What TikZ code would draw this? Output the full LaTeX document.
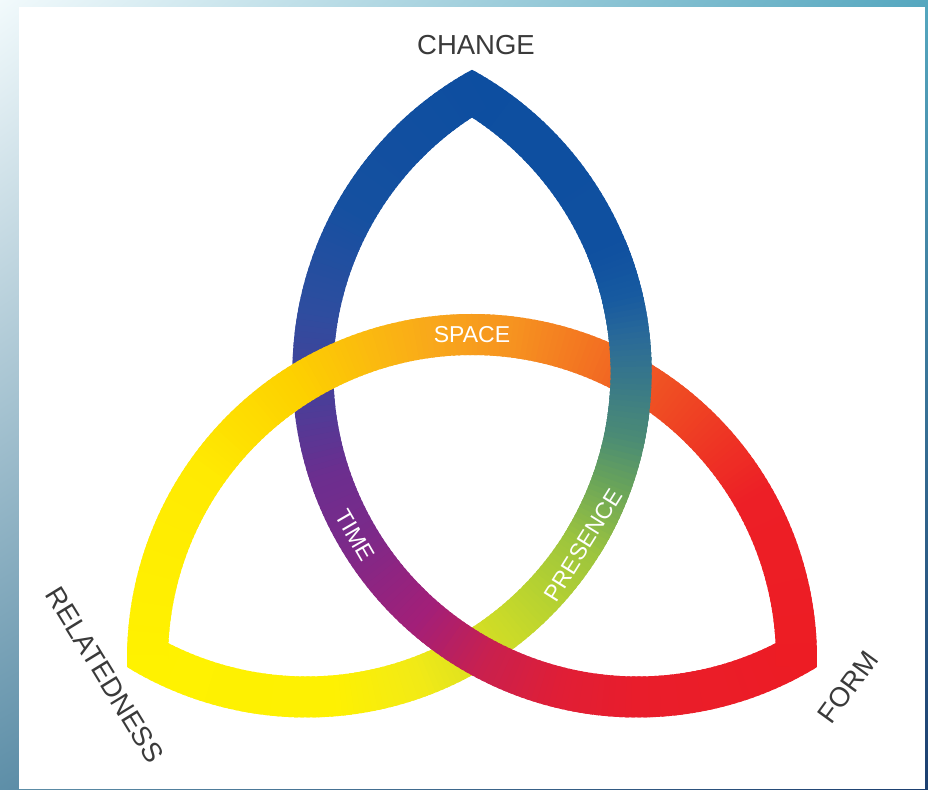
\documentclass[tikz,border=0pt]{standalone}
\usepackage{fontspec}
\setmainfont{Liberation Sans}
\usetikzlibrary{calc,shadings}

% colour stops along the first arc (top tip -> lower-right tip)
\definecolor{a0}{HTML}{0D4EA0}
\definecolor{a1}{HTML}{1550A0}
\definecolor{a2}{HTML}{2F4D9F}
\definecolor{a3}{HTML}{4A3E98}
\definecolor{a4}{HTML}{6B2E8F}
\definecolor{a5}{HTML}{7A2A8A}
\definecolor{a6}{HTML}{A31F78}
\definecolor{a7}{HTML}{C8204F}
\definecolor{a8}{HTML}{E01E36}
\definecolor{a9}{HTML}{E91D2B}
\definecolor{a10}{HTML}{ED1C24}
% second arc (lower-right tip -> lower-left tip, over the top)
\definecolor{b0}{HTML}{ED1C24}
\definecolor{b1}{HTML}{ED1F26}
\definecolor{b2}{HTML}{EF4623}
\definecolor{b3}{HTML}{F05A24}
\definecolor{b4}{HTML}{F26A22}
\definecolor{b5}{HTML}{F69320}
\definecolor{b6}{HTML}{F9A81B}
\definecolor{b7}{HTML}{FDD000}
\definecolor{b8}{HTML}{FFEA02}
\definecolor{b9}{HTML}{FFF200}
% third arc (lower-left tip -> top tip)
\definecolor{c0}{HTML}{FFF200}
\definecolor{c1}{HTML}{FEF102}
\definecolor{c2}{HTML}{F2EA16}
\definecolor{c3}{HTML}{DCE121}
\definecolor{c4}{HTML}{BAD42F}
\definecolor{c5}{HTML}{9CC43E}
\definecolor{c6}{HTML}{66A25C}
\definecolor{c7}{HTML}{4C8C74}
\definecolor{c8}{HTML}{3F7F82}
\definecolor{c9}{HTML}{2A6A98}
\definecolor{c10}{HTML}{185BA0}
\definecolor{c11}{HTML}{0F50A0}
\definecolor{c12}{HTML}{0D4EA0}

\definecolor{labelgrey}{HTML}{3A3A3A}
\definecolor{bgTL}{HTML}{F2FAFC}
\definecolor{bgTR}{HTML}{55A7BF}
\definecolor{bgBL}{HTML}{5E8FA8}
\definecolor{bgBR}{HTML}{1C3F70}

\newcommand\Rout{345pt}
\newcommand\Rin{304pt}
\def\bandend{360}

% one run of the band about centre #1 from angle #2 to #3, colour #4 -> #5
\newcommand\bandrun[5]{%
  \pgfmathtruncatemacro\nsteps{max(1,round(abs(#3-(#2))))}%
  \foreach \stepi in {1,...,\nsteps}{%
    \pgfmathsetmacro\angA{#2+(#3-(#2))*(\stepi-1)/\nsteps}%
    \pgfmathsetmacro\angB{min(#2+(#3-(#2))*\stepi/\nsteps+0.6,\bandend)}%
    \pgfmathtruncatemacro\mixp{round(100*(1-(\stepi-0.5)/\nsteps))}%
    \fill[#4!\mixp!#5] ($(#1)+(\angA:\Rout)$) arc[start angle=\angA, end angle=\angB, radius=\Rout]
      -- ($(#1)+(\angB:\Rin)$) arc[start angle=\angB, end angle=\angA, radius=\Rin] -- cycle;
  }%
}

\begin{document}
\begin{tikzpicture}[x=1pt,y=1pt,
  outerlbl/.style={text=labelgrey, inner sep=0pt, font=\fontsize{27.5}{30}\selectfont},
  bandlbl/.style={text=white, inner sep=0pt, font=\fontsize{23}{25}\selectfont}]
\useasboundingbox (0,0) rectangle (928,789);

% backdrop and white panel
\shade[upper left=bgTL, upper right=bgTR, lower left=bgBL, lower right=bgBR] (0,0) rectangle (928,789);
\fill[white] (19,0) rectangle (925,782);

% centres of the three arcs
\coordinate (MA) at (637.4,416.5);
\coordinate (MB) at (472,130);
\coordinate (MC) at (306.6,416.5);

% third arc: lower-left tip, along the bottom, up to the top tip
\def\bandend{421.32}
\bandrun{MC}{238.68}{275}{c0}{c1}
\bandrun{MC}{275}{290}{c1}{c2}
\bandrun{MC}{290}{300}{c2}{c3}
\bandrun{MC}{300}{315}{c3}{c4}
\bandrun{MC}{315}{328}{c4}{c5}
\bandrun{MC}{328}{340.6}{c5}{c6}
\bandrun{MC}{340.6}{348}{c6}{c7}
\bandrun{MC}{348}{355}{c7}{c8}
\bandrun{MC}{355}{366}{c8}{c9}
\bandrun{MC}{366}{373}{c9}{c10}
\bandrun{MC}{373}{382}{c10}{c11}
\bandrun{MC}{382}{421.32}{c11}{c12}

% first arc: top tip, down the left, along the bottom to the lower-right tip
\def\bandend{301.32}
\bandrun{MA}{118.68}{150}{a0}{a1}
\bandrun{MA}{150}{170}{a1}{a2}
\bandrun{MA}{170}{185}{a2}{a3}
\bandrun{MA}{185}{198}{a3}{a4}
\bandrun{MA}{198}{210}{a4}{a5}
\bandrun{MA}{210}{229}{a5}{a6}
\bandrun{MA}{229}{242}{a6}{a7}
\bandrun{MA}{242}{256}{a7}{a8}
\bandrun{MA}{256}{270}{a8}{a9}
\bandrun{MA}{270}{301.32}{a9}{a10}

% second arc: lower-right tip, over the top, to the lower-left tip
\def\bandend{181.32}
\bandrun{MB}{-1.32}{30}{b0}{b1}
\bandrun{MB}{30}{50}{b1}{b2}
\bandrun{MB}{50}{60}{b2}{b3}
\bandrun{MB}{60}{65}{b3}{b4}
\bandrun{MB}{65}{83}{b4}{b5}
\bandrun{MB}{83}{97}{b5}{b6}
\bandrun{MB}{97}{122}{b6}{b7}
\bandrun{MB}{122}{145}{b7}{b8}
\bandrun{MB}{145}{181.32}{b8}{b9}

% the third arc passes over the second one on the upper right
\def\bandend{421.32}
\bandrun{MC}{328}{340.6}{c5}{c6}
\bandrun{MC}{340.6}{348}{c6}{c7}
\bandrun{MC}{348}{355}{c7}{c8}
\bandrun{MC}{355}{366}{c8}{c9}
\bandrun{MC}{366}{373}{c9}{c10}
\bandrun{MC}{373}{382}{c10}{c11}

% labels on the band
\node[bandlbl] (space) at ($(MB)+(90:324pt)$) {SPACE};
\node[bandlbl, rotate=-60] (time) at ($(MA)+(210:326pt)$) {TIME};
\node[bandlbl, rotate=58] (presence) at ($(MC)+(328:326pt)$) {PRESENCE};

% labels at the three tips
\node[outerlbl] (change) at (476,744) {CHANGE};
\node[outerlbl, rotate=-58.5] (relatedness) at (105,114) {RELATEDNESS};
\node[outerlbl, rotate=54] (form) at (848,102) {FORM};
\end{tikzpicture}
\end{document}
